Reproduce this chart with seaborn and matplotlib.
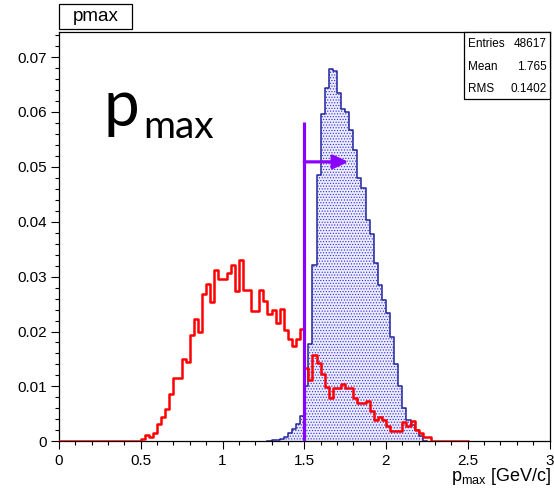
import numpy as np
import pandas as pd
import matplotlib
matplotlib.use("Agg")
import matplotlib.pyplot as plt
from matplotlib.patches import Rectangle
from matplotlib.ticker import MultipleLocator, FixedLocator
import seaborn as sns

# ---------------------------------------------------------------- data
BIN_WIDTH = 0.025

# background (red) distribution, booked on 0 .. 2.5, non-zero from 0.5 on
red_range = (0.0, 2.5)
red_first_bin = 0.5
red_values = [
    0.0004, 0.0012, 0.0007, 0.0015, 0.0032, 0.0044, 0.0058, 0.0086, 0.0115, 0.0115,  # 0.50-0.75
    0.0150, 0.0144, 0.0194, 0.0222, 0.0199, 0.0268, 0.0286, 0.0254, 0.0312, 0.0295,  # 0.75-1.00
    0.0295, 0.0306, 0.0322, 0.0273, 0.0330, 0.0276, 0.0275, 0.0237, 0.0237, 0.0276,  # 1.00-1.25
    0.0256, 0.0231, 0.0240, 0.0215, 0.0241, 0.0203, 0.0186, 0.0173, 0.0186, 0.0204,  # 1.25-1.50
    0.0133, 0.0111, 0.0158, 0.0143, 0.0122, 0.0099, 0.0078, 0.0097, 0.0097, 0.0104,  # 1.50-1.75
    0.0097, 0.0097, 0.0078, 0.0069, 0.0069, 0.0074, 0.0056, 0.0039, 0.0044, 0.0039,  # 1.75-2.00
    0.0027, 0.0019, 0.0019, 0.0019, 0.0035, 0.0027, 0.0037, 0.0021, 0.0015, 0.0008,  # 2.00-2.25
    0.0008,                                                                          # 2.25-2.275
]

# signal (blue) distribution
blue_first_bin = 1.275
blue_values = [
    0.0001, 0.0002, 0.0003, 0.0004, 0.0008, 0.0015, 0.0022, 0.0031, 0.0046,          # 1.275-1.50
    0.0100, 0.0177, 0.0321, 0.0485, 0.0596, 0.0643, 0.0678, 0.0675, 0.0634, 0.0605,  # 1.50-1.75
    0.0599, 0.0567, 0.0531, 0.0479, 0.0462, 0.0404, 0.0378, 0.0325, 0.0285, 0.0258,  # 1.75-2.00
    0.0233, 0.0190, 0.0140, 0.0100, 0.0060, 0.0038, 0.0029, 0.0020, 0.0010, 0.0000,  # 2.00-2.25
]

# selection cut p_max > 1.5
cut_value = 1.5
cut_line_top = 0.0582
arrow_tip = 1.77
arrow_height = 0.0509

x_ticks = [0, 0.5, 1, 1.5, 2, 2.5, 3]
x_tick_labels = ["0", "0.5", "1", "1.5", "2", "2.5", "3"]
y_ticks = [0, 0.01, 0.02, 0.03, 0.04, 0.05, 0.06, 0.07]
y_tick_labels = ["0", "0.01", "0.02", "0.03", "0.04", "0.05", "0.06", "0.07"]

hist_name = "pmax"
stats_names = ["Entries", "Mean", "RMS"]
stats_values = ["48617", "1.765", "0.1402"]


def binned_frame(first, values, lo=None, hi=None):
    """Bin centres/weights plus binning for a fixed-width histogram."""
    lo = first if lo is None else lo
    hi = first + len(values) * BIN_WIDTH if hi is None else hi
    nbins = int(round((hi - lo) / BIN_WIDTH))
    edges = lo + BIN_WIDTH * np.arange(nbins + 1)
    w = np.zeros(nbins)
    i0 = int(round((first - lo) / BIN_WIDTH))
    w[i0:i0 + len(values)] = values
    centers = edges[:-1] + BIN_WIDTH / 2
    return pd.DataFrame({"pmax": centers, "w": w}), nbins, (lo, hi)


red_df, red_nbins, red_binrange = binned_frame(red_first_bin, red_values, *red_range)
blue_df, blue_nbins, blue_binrange = binned_frame(blue_first_bin, blue_values)

# ---------------------------------------------------------------- style
plt.rcParams["font.family"] = ["Liberation Sans", "DejaVu Sans"]
plt.rcParams["hatch.linewidth"] = 0.5

W, H = 554, 493
fig = plt.figure(figsize=(W / 100, H / 100), dpi=100)
ax_l, ax_r, ax_t, ax_b = 59, 549.5, 32.3, 441.3
ax = fig.add_axes([ax_l / W, (H - ax_b) / H, (ax_r - ax_l) / W, (ax_b - ax_t) / H])

BLUE_LINE = "#23239c"
BLUE_DOTS = "#2a2ae6"
RED = "#ff0000"
VIOLET = "#8a00ff"

# dotted fill of the signal histogram
sns.histplot(data=blue_df, x="pmax", weights="w", bins=blue_nbins, binrange=blue_binrange,
             element="step", fill=True, facecolor="#ececfc", edgecolor=BLUE_DOTS,
             linewidth=0, alpha=1, hatch="......", ax=ax, zorder=1)
# outline of the signal histogram
sns.histplot(data=blue_df, x="pmax", weights="w", bins=blue_nbins, binrange=blue_binrange,
             element="step", fill=False, color=BLUE_LINE, linewidth=1.1, ax=ax, zorder=2)
# background histogram
sns.histplot(data=red_df, x="pmax", weights="w", bins=red_nbins, binrange=red_binrange,
             element="step", fill=False, color=RED, linewidth=1.8, ax=ax, zorder=3)

# cut line and arrow
ax.plot([cut_value, cut_value], [0, cut_line_top], color=VIOLET, lw=2.3,
        solid_capstyle="butt", zorder=4)
ax.annotate("", xy=(arrow_tip, arrow_height), xytext=(cut_value, arrow_height),
            arrowprops=dict(arrowstyle="-|>,head_length=0.9,head_width=0.42",
                            mutation_scale=10, color=VIOLET, lw=2.3,
                            shrinkA=0, shrinkB=0), zorder=4)

# axes
ax.set_xlim(0, 3)
ax.set_ylim(0, 0.0745)
ax.set_xlabel("")
ax.set_ylabel("")
ax.xaxis.set_major_locator(FixedLocator(x_ticks))
ax.set_xticklabels(x_tick_labels)
ax.xaxis.set_minor_locator(MultipleLocator(0.1))
ax.yaxis.set_major_locator(FixedLocator(y_ticks))
ax.set_yticklabels(y_tick_labels)
ax.yaxis.set_minor_locator(MultipleLocator(0.002))
ax.tick_params(which="both", direction="out", width=0.8, colors="black",
               labelsize=11)
ax.tick_params(axis="x", which="major", length=5.5, pad=3.5)
ax.tick_params(axis="x", which="minor", length=3)
ax.tick_params(axis="y", which="major", length=6, pad=3)
ax.tick_params(axis="y", which="minor", length=3)
for s in ax.spines.values():
    s.set_linewidth(0.9)
    s.set_color("black")

# axis title
ax.text(1.003, -0.098, r"$\mathregular{p_{max}}$ [GeV/c]", transform=ax.transAxes,
        ha="right", va="baseline", fontsize=13)

# large variable label
ax.text(0.0917, 0.771, "p", transform=ax.transAxes, fontsize=46,
        family=["Lato", "DejaVu Sans"], va="baseline", ha="left")
ax.text(0.172, 0.741, "max", transform=ax.transAxes, fontsize=28,
        family=["Lato", "DejaVu Sans"], va="baseline", ha="left")

# statistics box
bx0, by0 = (464 - ax_l) / (ax_r - ax_l), (ax_b - 99.3) / (ax_b - ax_t)
ax.add_patch(Rectangle((bx0, by0), 1 - bx0, 1 - by0, transform=ax.transAxes,
                       facecolor="white", edgecolor="black", lw=0.9, zorder=6,
                       clip_on=False))
row_y = [0.971, 0.916, 0.861]
for name, val, yy in zip(stats_names, stats_values, row_y):
    ax.text(bx0 + 0.009, yy, name, transform=ax.transAxes, fontsize=8.5,
            ha="left", va="center", zorder=7)
    ax.text(0.994, yy, val, transform=ax.transAxes, fontsize=8.5,
            ha="right", va="center", zorder=7)

# histogram title box
tx0, ty0, tx1, ty1 = 59, 4, 131.7, 29.3
fig.patches.append(Rectangle((tx0 / W, (H - ty1) / H), (tx1 - tx0) / W, (ty1 - ty0) / H,
                             transform=fig.transFigure, facecolor="white",
                             edgecolor="black", lw=0.9))
fig.text((tx0 + tx1) / 2 / W, 1 - (ty0 + ty1) / 2 / H, hist_name,
         ha="center", va="center", fontsize=13.5)

fig.savefig("out.png", dpi=100)
